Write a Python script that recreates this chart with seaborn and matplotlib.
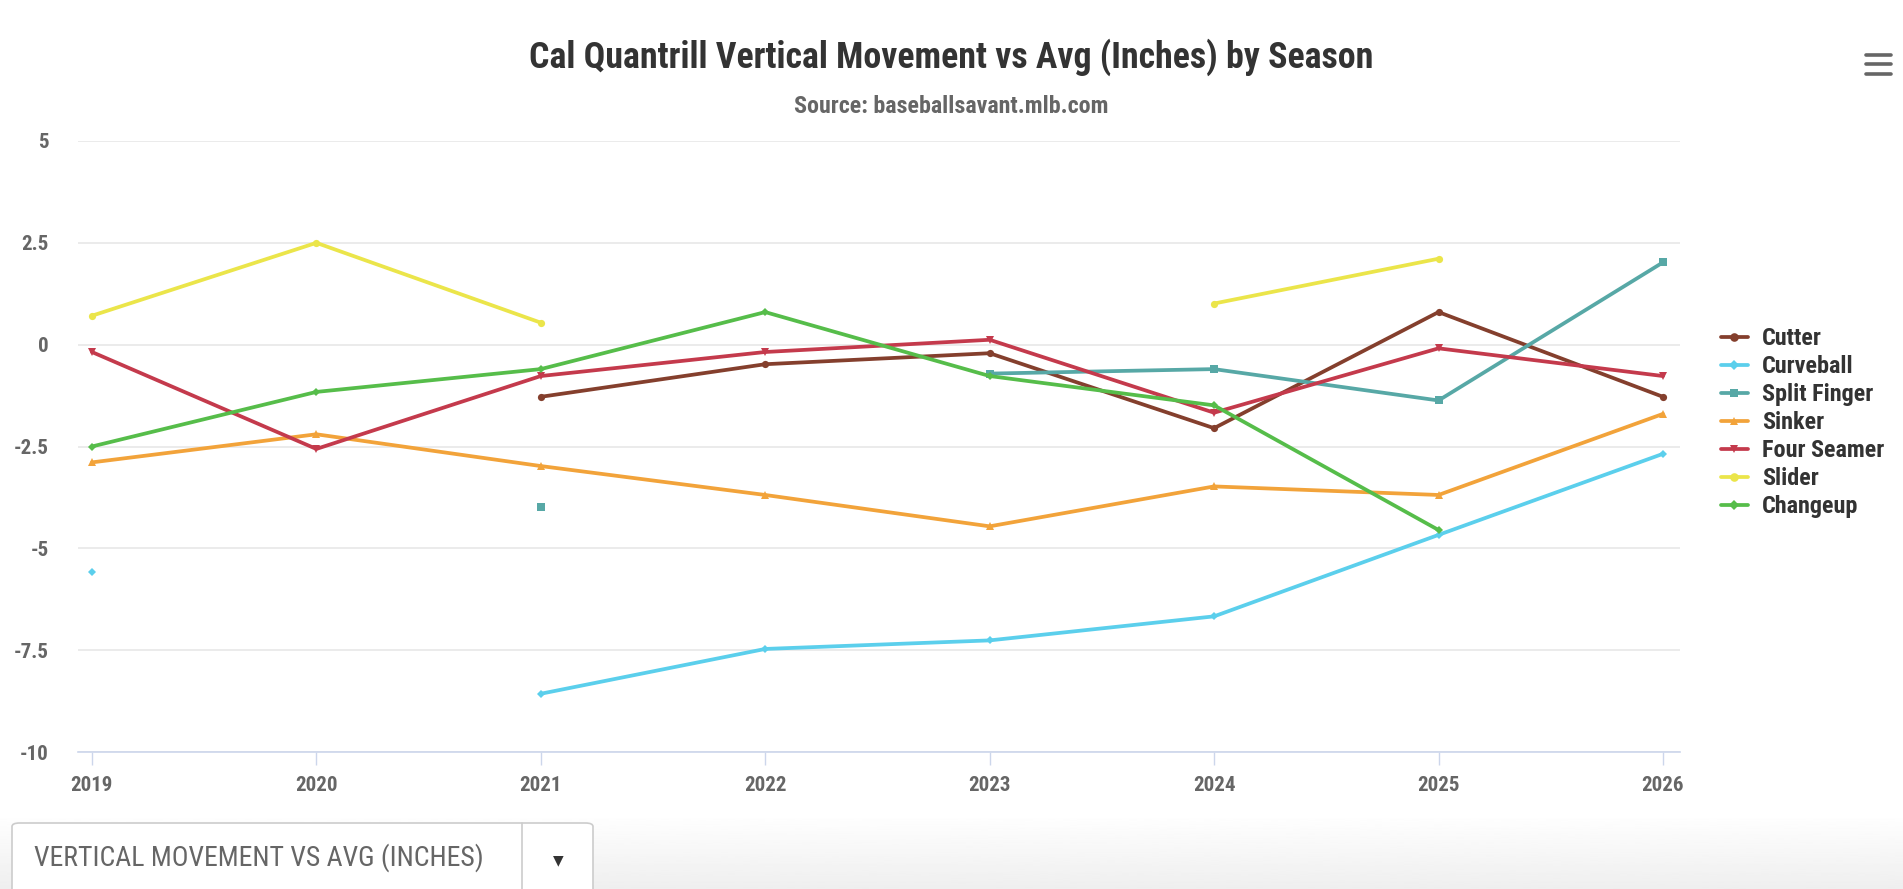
import numpy as np
import pandas as pd
import matplotlib
matplotlib.use("Agg")
import matplotlib.pyplot as plt
from matplotlib.lines import Line2D
from matplotlib.patches import FancyBboxPatch
from matplotlib import font_manager
import seaborn as sns

seasons = [2019, 2020, 2021, 2022, 2023, 2024, 2025, 2026]
nan = np.nan
cutter = [nan, nan, -1.28, -0.48, -0.21, -2.05, 0.80, -1.28]
curveball = [-5.57, nan, -8.57, -7.47, -7.26, -6.67, -4.67, -2.68]
split_finger = [nan, nan, -3.99, nan, -0.71, -0.60, -1.37, 2.02]
sinker = [-2.89, -2.20, -2.98, -3.69, -4.46, -3.48, -3.69, -1.70]
four_seamer = [-0.18, -2.56, -0.77, -0.18, 0.12, -1.67, -0.09, -0.77]
slider = [0.71, 2.50, 0.54, nan, nan, 1.01, 2.11, nan]
changeup = [-2.50, -1.16, -0.60, 0.80, -0.77, -1.49, -4.55, nan]

pitch_names = ["Cutter", "Curveball", "Split Finger", "Sinker", "Four Seamer", "Slider", "Changeup"]
pitch_values = [cutter, curveball, split_finger, sinker, four_seamer, slider, changeup]
y_ticks = [5, 2.5, 0, -2.5, -5, -7.5, -10]
y_tick_labels = ["5", "2.5", "0", "-2.5", "-5", "-7.5", "-10"]

title = "Cal Quantrill Vertical Movement vs Avg (Inches) by Season"
subtitle = "Source: baseballsavant.mlb.com"
dropdown_label = "VERTICAL MOVEMENT VS AVG (INCHES)"

colors = ["#843f2d", "#5bcfec", "#57a8a6", "#f2a33a", "#c43a4c", "#ebe54a", "#56bd4a"]
markers = ["o", "D", "s", "^", "v", "o", "D"]
msizes = [5.2, 3.8, 5.4, 5.2, 5.2, 5.2, 3.8]


def pick_font(cands):
    for c in cands:
        try:
            font_manager.findfont(font_manager.FontProperties(family=c), fallback_to_default=False)
            return c
        except Exception:
            continue
    return "Roboto"


cond_font = pick_font(["Roboto Condensed", "Liberation Sans Narrow", "Open Sans Condensed",
                       "Roboto"])
is_cond = cond_font != "Roboto"
FAM = [cond_font, "Roboto", "DejaVu Sans"]
k = 1.12 if is_cond else 1.0

sns.set_theme(style="white")
plt.rcParams["font.family"] = FAM

fig = plt.figure(figsize=(19.03, 8.89), dpi=100)

# subtle gray gradient at the bottom of the page
bg = fig.add_axes([0, 0, 1, 75 / 889], zorder=-5)
grad = np.linspace(0.935, 1.0, 100).reshape(-1, 1)
bg.imshow(grad, aspect="auto", cmap="gray", vmin=0, vmax=1, origin="lower",
          extent=[0, 1, 0, 1])
bg.set_axis_off()

ax = fig.add_axes([78 / 1903, 1 - 752 / 889, (1680 - 78) / 1903, (752 - 141) / 889])

# build long table with segment ids so gaps are not bridged
rows = []
for name, vals in zip(pitch_names, pitch_values):
    seg = 0
    prev_nan = True
    for s, v in zip(seasons, vals):
        if np.isnan(v):
            prev_nan = True
            continue
        if prev_nan:
            seg += 1
            prev_nan = False
        rows.append({"season": s, "value": v, "pitch": name, "seg": f"{name}-{seg}"})
df = pd.DataFrame(rows)

for name, c, m, ms in zip(pitch_names, colors, markers, msizes):
    sub = df[df["pitch"] == name]
    for seg_id, g in sub.groupby("seg", sort=False):
        sns.lineplot(data=g, x="season", y="value", ax=ax, color=c, lw=2.7,
                     marker=m, markersize=ms, markeredgewidth=0, estimator=None,
                     legend=False, zorder=3)

ax.set_xlim(2018.938, 2026.076)
ax.set_ylim(-10, 5)
ax.set_yticks(y_ticks)
ax.set_yticklabels(y_tick_labels)
ax.set_xticks(seasons)
ax.set_xticklabels([str(s) for s in seasons])
ax.set_xlabel("")
ax.set_ylabel("")
ax.grid(axis="y", color="#e6e6e6", lw=1.1, zorder=0)
ax.grid(axis="x", visible=False)
for sp in ["top", "right", "left"]:
    ax.spines[sp].set_visible(False)
ax.spines["bottom"].set_color("#ccd6eb")
ax.spines["bottom"].set_linewidth(1.2)
ax.tick_params(axis="y", length=0, pad=21, labelsize=13.5 * k, labelcolor="#666666")
ax.tick_params(axis="x", length=9, width=1, color="#ccd6eb", pad=8, labelsize=13.5 * k,
               labelcolor="#666666", direction="out", bottom=True)
for lab in ax.get_xticklabels() + ax.get_yticklabels():
    lab.set_fontweight("bold")
    lab.set_family(FAM)

fig.text(0.5, 1 - 57 / 889, title, ha="center", va="center",
         fontsize=(25.8 if is_cond else 22.3),
         fontweight="bold", color="#333333", family=FAM)
fig.text(0.5, 1 - 106.5 / 889, subtitle, ha="center", va="center",
         fontsize=(17.3 if is_cond else 15.2),
         fontweight="bold", color="#666666", family=FAM)

leg_fs = 17.4 if is_cond else 15.4
handles = [Line2D([0], [0], color=c, lw=2.7, marker=m, markersize=ms + 1, markeredgewidth=0)
           for c, m, ms in zip(colors, markers, msizes)]
leg = fig.legend(handles, pitch_names, loc="upper left",
                 bbox_to_anchor=(1721 / 1903, 1 - 327 / 889), frameon=False,
                 borderpad=0, borderaxespad=0,
                 handlelength=1.1, handletextpad=0.6, labelspacing=0.21,
                 prop={"family": FAM, "weight": "bold", "size": leg_fs})
for t in leg.get_texts():
    t.set_color("#333333")

# hamburger menu
for yy in (55, 64, 74):
    fig.add_artist(Line2D([1866 / 1903, 1891 / 1903], [1 - yy / 889, 1 - yy / 889],
                          color="#666666", lw=2.6, solid_capstyle="round"))

# dropdown
box = FancyBboxPatch((12 / 1903, 1 - 905 / 889), (593 - 12) / 1903, (905 - 823) / 889,
                     boxstyle="round,pad=0,rounding_size=0.004", transform=fig.transFigure,
                     facecolor="white", edgecolor="#cccccc", lw=1.2, zorder=2)
fig.add_artist(box)
fig.add_artist(Line2D([522 / 1903, 522 / 1903], [1 - 823 / 889, 0], color="#cccccc", lw=1.2,
                      zorder=3))
fig.text(34 / 1903, 1 - 858 / 889, dropdown_label, ha="left", va="center",
         fontsize=(20 if is_cond else 17),
         color="#666666", family=FAM, zorder=4)
fig.text(558 / 1903, 1 - 860 / 889, "▼", ha="center", va="center", fontsize=10,
         color="#333333", family=["DejaVu Sans"], zorder=4)

fig.savefig("out.png", dpi=100)
